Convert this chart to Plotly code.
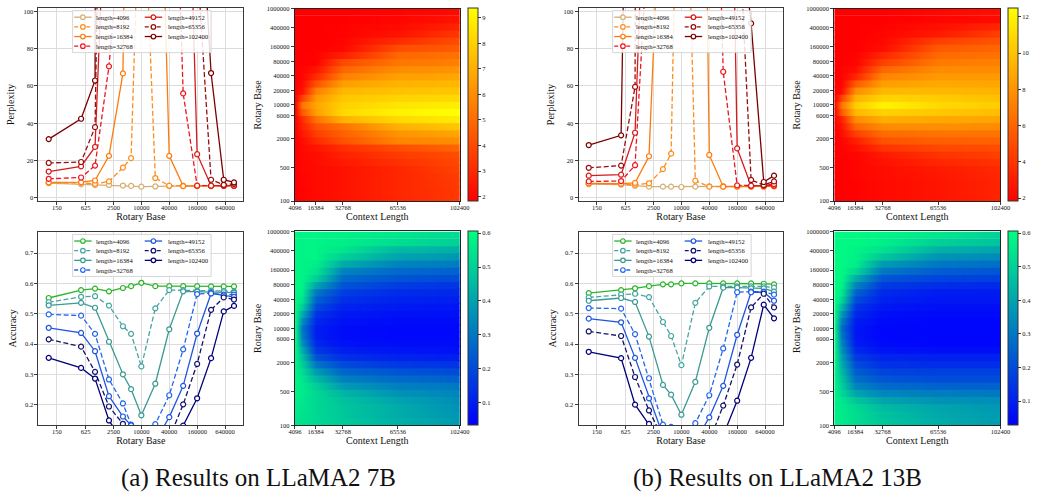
import math
import plotly.graph_objects as go

W, H = 1040, 500
FONT = "Liberation Serif"

# ---------------- data ----------------
rotary_bases = [100, 500, 1000, 2000, 4000, 6000, 10000, 20000, 40000, 80000, 160000, 320000, 600000, 1000000]
series_names = ["length=4096", "length=8192", "length=16384", "length=32768",
                "length=49152", "length=65356", "length=102400"]
series_dashed = [False, True, False, True, False, True, False]
ppl_colors = ["#d6ad72", "#ff8c1a", "#ff7a0a", "#f0141e", "#d91a1a", "#9a0d0d", "#7a0000"]
acc_colors = ["#2bb52b", "#45a5a0", "#3a9a92", "#2266f0", "#1f55e0", "#13136b", "#00007a"]

# LLaMA2 7B perplexity
ppl7_4096 = [7.9, 7.2, 6.8, 6.9, 6.6, 6.4, 6.0, 6.1, 6.3, 6.4, 6.5, 6.5, 6.6, 6.7]
ppl7_8192 = [8.0, 8.0, 7.5, 8.8, 16.2, 21.3, 200, 10.6, 6.5, 6.4, 6.4, 6.4, 6.5, 6.5]
ppl7_16384 = [8.3, 8.4, 9.3, 22.5, 66.7, 185, 800, 293, 22.5, 6.3, 6.3, 6.3, 6.4, 6.4]
ppl7_32768 = [10.2, 10.9, 17.3, 70.5, 157, 900, 3000, 1500, 287, 56, 6.5, 6.4, 6.5, 6.5]
ppl7_49152 = [14.1, 16.9, 27.3, 214, 1200, 3000, 5000, 3000, 1500, 291, 23.4, 6.5, 6.6, 6.6]
ppl7_65356 = [18.7, 19.2, 37.9, 500, 2000, 5000, 8000, 5000, 2500, 800, 127, 9.7, 7.0, 7.5]
ppl7_102400 = [31.5, 42.4, 62.9, 600, 3000, 8000, 11000, 8000, 4000, 1500, 194, 66.9, 9.7, 8.3]

# LLaMA2 13B perplexity
ppl13_4096 = [7.4, 7.1, 6.5, 6.0, 6.0, 6.0, 5.8, 6.0, 6.2, 6.2, 6.2, 6.2, 6.2, 6.3]
ppl13_8192 = [7.6, 7.4, 7.0, 7.8, 15.4, 23.7, 300, 9.2, 6.0, 6.0, 6.0, 6.0, 6.1, 6.2]
ppl13_16384 = [7.7, 7.6, 8.0, 22.3, 200, 600, 1500, 600, 23.0, 6.0, 6.0, 6.0, 6.1, 6.2]
ppl13_32768 = [8.8, 9.0, 17.5, 150, 1500, 3000, 5000, 3000, 340, 67.6, 6.7, 6.4, 6.5, 6.6]
ppl13_49152 = [11.9, 12.4, 34.9, 240, 3000, 5000, 8000, 5000, 3000, 460, 26.5, 6.5, 6.7, 7.4]
ppl13_65356 = [16.1, 17.3, 59.5, 320, 4000, 6000, 10000, 6000, 4000, 1500, 165, 9.6, 6.9, 8.8]
ppl13_102400 = [28.3, 33.5, 500, 2000, 6000, 9000, 15000, 9000, 6000, 3000, 160, 93.5, 8.5, 11.9]

# LLaMA2 7B accuracy
acc7_4096 = [0.552, 0.578, 0.583, 0.574, 0.585, 0.591, 0.602, 0.591, 0.591, 0.591, 0.591, 0.590, 0.590, 0.590]
acc7_8192 = [0.538, 0.556, 0.558, 0.527, 0.459, 0.434, 0.327, 0.518, 0.578, 0.578, 0.576, 0.576, 0.575, 0.573]
acc7_16384 = [0.528, 0.536, 0.520, 0.408, 0.301, 0.252, 0.166, 0.270, 0.449, 0.574, 0.573, 0.572, 0.571, 0.570]
acc7_32768 = [0.498, 0.494, 0.434, 0.284, 0.205, 0.135, 0.090, 0.137, 0.232, 0.383, 0.565, 0.568, 0.563, 0.563]
acc7_49152 = [0.454, 0.437, 0.377, 0.229, 0.162, 0.133, 0.080, 0.080, 0.160, 0.263, 0.435, 0.567, 0.561, 0.556]
acc7_65356 = [0.416, 0.392, 0.309, 0.195, 0.138, 0.090, 0.070, 0.070, 0.090, 0.202, 0.335, 0.513, 0.554, 0.547]
acc7_102400 = [0.355, 0.322, 0.287, 0.149, 0.080, 0.060, 0.050, 0.050, 0.060, 0.132, 0.222, 0.354, 0.508, 0.526]

# LLaMA2 13B accuracy
acc13_4096 = [0.568, 0.578, 0.584, 0.591, 0.597, 0.597, 0.600, 0.600, 0.600, 0.600, 0.600, 0.600, 0.599, 0.597]
acc13_8192 = [0.554, 0.564, 0.566, 0.555, 0.473, 0.427, 0.331, 0.536, 0.590, 0.590, 0.590, 0.590, 0.590, 0.586]
acc13_16384 = [0.543, 0.552, 0.539, 0.425, 0.266, 0.234, 0.168, 0.276, 0.454, 0.586, 0.586, 0.584, 0.584, 0.573]
acc13_32768 = [0.519, 0.517, 0.433, 0.288, 0.135, 0.128, 0.080, 0.140, 0.232, 0.386, 0.571, 0.573, 0.573, 0.563]
acc13_49152 = [0.484, 0.472, 0.355, 0.222, 0.100, 0.080, 0.060, 0.080, 0.159, 0.263, 0.431, 0.571, 0.571, 0.543]
acc13_65356 = [0.442, 0.427, 0.292, 0.182, 0.090, 0.070, 0.050, 0.060, 0.080, 0.198, 0.333, 0.521, 0.566, 0.521]
acc13_102400 = [0.375, 0.354, 0.201, 0.138, 0.070, 0.060, 0.050, 0.050, 0.060, 0.100, 0.214, 0.355, 0.530, 0.485]

rb_tickvals = [150, 625, 2500, 10000, 40000, 160000, 640000]
ppl_tickvals = [0, 20, 40, 60, 80, 100]
acc_tickvals = [0.2, 0.3, 0.4, 0.5, 0.6, 0.7]

# heatmaps: rows = rotary-base bands (centres), columns = context lengths
hm_bases = [119, 167, 235, 330, 464, 653, 918, 1292, 1817, 2556, 3594, 5054, 7109, 10000,
            14068, 19786, 27826, 39137, 55052, 77426, 108900, 153166, 215443, 303030,
            426185, 599484, 843335]
hm_lengths = [4096, 8192, 16384, 32768, 65536, 102400]
hm_len_ticks = [4096, 16384, 32768, 65536, 102400]
hm_base_ticks = [100, 500, 2000, 6000, 10000, 20000, 40000, 80000, 160000, 400000, 1000000]

hm_ppl7 = [
    [1.81, 1.89, 2.11, 2.34, 2.94, 3.47],
    [1.81, 1.89, 2.11, 2.34, 2.94, 3.47],
    [1.81, 1.96, 2.11, 2.34, 2.94, 3.55],
    [1.81, 1.96, 2.11, 2.34, 2.94, 3.62],
    [1.81, 2.04, 2.11, 2.34, 2.94, 3.78],
    [1.81, 2.04, 2.19, 2.57, 3.25, 3.93],
    [1.81, 2.04, 2.19, 2.79, 3.55, 4.08],
    [1.81, 2.11, 2.41, 3.17, 4.08, 4.83],
    [1.81, 2.19, 3.10, 4.23, 5.74, 6.04],
    [1.81, 2.49, 3.62, 4.68, 6.19, 6.72],
    [1.81, 2.79, 4.23, 5.21, 7.10, 7.71],
    [1.89, 3.10, 5.21, 7.10, 8.24, 8.77],
    [1.96, 4.46, 6.50, 8.24, 8.99, 9.37],
    [1.96, 5.29, 6.72, 8.01, 8.61, 8.84],
    [1.89, 3.70, 6.35, 7.71, 8.08, 8.24],
    [1.81, 2.34, 5.59, 7.25, 7.56, 7.71],
    [1.81, 2.11, 4.23, 6.50, 7.10, 7.25],
    [1.81, 1.96, 3.10, 5.59, 6.57, 6.72],
    [1.81, 1.89, 2.41, 4.83, 5.97, 6.19],
    [1.81, 1.81, 1.89, 4.00, 5.29, 5.59],
    [1.81, 1.81, 1.89, 2.72, 4.83, 5.21],
    [1.81, 1.81, 1.81, 2.04, 4.08, 4.53],
    [1.81, 1.81, 1.81, 1.96, 3.10, 4.08],
    [1.81, 1.81, 1.81, 1.89, 2.34, 3.47],
    [1.81, 1.81, 1.81, 1.89, 2.11, 2.87],
    [1.81, 1.81, 1.81, 1.81, 1.96, 2.34],
    [1.81, 1.81, 1.81, 1.81, 1.89, 2.11],
]
hm_ppl13 = [
    [1.82, 1.82, 1.93, 2.25, 2.67, 3.31],
    [1.82, 1.82, 1.93, 2.25, 2.67, 3.31],
    [1.82, 1.82, 1.93, 2.25, 2.67, 3.31],
    [1.82, 1.82, 2.03, 2.35, 2.78, 3.42],
    [1.82, 1.82, 2.03, 2.35, 2.89, 3.52],
    [1.82, 1.82, 2.03, 2.57, 3.42, 3.95],
    [1.82, 1.93, 2.03, 2.89, 3.95, 4.48],
    [1.82, 1.93, 2.46, 3.95, 4.80, 5.02],
    [1.82, 2.03, 3.10, 5.23, 5.76, 5.87],
    [1.82, 2.35, 4.48, 6.29, 6.61, 6.61],
    [1.82, 2.67, 6.08, 7.68, 7.78, 7.68],
    [1.93, 3.20, 7.68, 9.06, 8.85, 8.64],
    [1.93, 5.55, 9.49, 10.55, 10.13, 9.70],
    [1.93, 6.61, 10.34, 11.94, 10.87, 10.34],
    [1.82, 4.48, 9.28, 10.66, 10.34, 9.81],
    [1.82, 2.35, 7.68, 9.49, 9.49, 9.28],
    [1.82, 2.03, 5.55, 8.42, 8.85, 8.74],
    [1.82, 1.93, 3.42, 7.36, 8.21, 8.21],
    [1.82, 1.93, 2.46, 6.08, 7.68, 7.68],
    [1.82, 1.82, 2.03, 4.48, 6.93, 7.15],
    [1.82, 1.82, 1.93, 3.42, 6.29, 6.61],
    [1.82, 1.82, 1.82, 2.35, 5.55, 6.08],
    [1.82, 1.82, 1.82, 2.14, 4.48, 5.33],
    [1.82, 1.82, 1.82, 2.03, 2.89, 4.48],
    [1.82, 1.82, 1.82, 1.93, 2.46, 3.42],
    [1.82, 1.82, 1.82, 1.82, 2.03, 2.25],
    [1.82, 1.82, 1.82, 1.82, 2.14, 2.46],
]
hm_acc7 = [
    [0.55, 0.54, 0.52, 0.49, 0.43, 0.38],
    [0.56, 0.54, 0.52, 0.48, 0.42, 0.37],
    [0.56, 0.55, 0.52, 0.48, 0.42, 0.36],
    [0.57, 0.55, 0.52, 0.47, 0.40, 0.35],
    [0.58, 0.56, 0.52, 0.44, 0.36, 0.33],
    [0.58, 0.56, 0.50, 0.38, 0.32, 0.30],
    [0.58, 0.55, 0.45, 0.32, 0.27, 0.25],
    [0.58, 0.53, 0.38, 0.26, 0.22, 0.20],
    [0.58, 0.50, 0.30, 0.20, 0.16, 0.15],
    [0.58, 0.47, 0.22, 0.14, 0.11, 0.10],
    [0.59, 0.42, 0.16, 0.10, 0.08, 0.07],
    [0.59, 0.36, 0.12, 0.07, 0.06, 0.06],
    [0.60, 0.32, 0.10, 0.06, 0.05, 0.05],
    [0.60, 0.30, 0.10, 0.06, 0.05, 0.05],
    [0.60, 0.35, 0.12, 0.07, 0.06, 0.06],
    [0.59, 0.42, 0.15, 0.09, 0.07, 0.07],
    [0.59, 0.50, 0.20, 0.11, 0.09, 0.08],
    [0.59, 0.55, 0.25, 0.14, 0.11, 0.10],
    [0.59, 0.57, 0.30, 0.17, 0.13, 0.12],
    [0.59, 0.58, 0.40, 0.22, 0.17, 0.15],
    [0.59, 0.58, 0.50, 0.27, 0.22, 0.20],
    [0.59, 0.58, 0.55, 0.33, 0.27, 0.25],
    [0.59, 0.58, 0.57, 0.42, 0.33, 0.31],
    [0.59, 0.58, 0.58, 0.50, 0.40, 0.37],
    [0.59, 0.58, 0.58, 0.55, 0.45, 0.43],
    [0.59, 0.58, 0.58, 0.57, 0.53, 0.50],
    [0.59, 0.58, 0.58, 0.57, 0.55, 0.52],
]
hm_acc13 = [
    [0.57, 0.56, 0.53, 0.48, 0.42, 0.38],
    [0.57, 0.56, 0.53, 0.47, 0.41, 0.38],
    [0.57, 0.56, 0.52, 0.45, 0.40, 0.37],
    [0.58, 0.55, 0.48, 0.40, 0.36, 0.35],
    [0.58, 0.52, 0.40, 0.33, 0.31, 0.30],
    [0.58, 0.50, 0.33, 0.27, 0.25, 0.25],
    [0.58, 0.48, 0.28, 0.22, 0.20, 0.20],
    [0.58, 0.45, 0.24, 0.18, 0.17, 0.17],
    [0.59, 0.42, 0.20, 0.14, 0.13, 0.13],
    [0.59, 0.40, 0.16, 0.11, 0.10, 0.10],
    [0.60, 0.36, 0.12, 0.07, 0.06, 0.06],
    [0.60, 0.33, 0.09, 0.05, 0.04, 0.04],
    [0.60, 0.30, 0.08, 0.04, 0.04, 0.04],
    [0.60, 0.28, 0.08, 0.04, 0.04, 0.04],
    [0.60, 0.32, 0.09, 0.05, 0.04, 0.04],
    [0.60, 0.38, 0.12, 0.06, 0.05, 0.05],
    [0.60, 0.45, 0.15, 0.08, 0.06, 0.06],
    [0.60, 0.52, 0.20, 0.10, 0.08, 0.08],
    [0.60, 0.56, 0.25, 0.12, 0.09, 0.09],
    [0.60, 0.58, 0.33, 0.16, 0.13, 0.12],
    [0.59, 0.59, 0.42, 0.22, 0.18, 0.17],
    [0.59, 0.59, 0.52, 0.30, 0.24, 0.22],
    [0.59, 0.59, 0.57, 0.38, 0.30, 0.28],
    [0.59, 0.59, 0.58, 0.48, 0.36, 0.34],
    [0.59, 0.59, 0.58, 0.54, 0.43, 0.40],
    [0.59, 0.59, 0.59, 0.57, 0.50, 0.47],
    [0.59, 0.59, 0.59, 0.58, 0.55, 0.50],
]

captions = ["(a) Results on LLaMA2 7B", "(b) Results on LLaMA2 13B"]

# ---------------- layout helpers ----------------
def px(x):
    return x / W

def py(y):
    return 1 - y / H

AX = "#3a3a3a"
GRID = "#dcdcdc"
TICKFONT = dict(family=FONT, size=6.5, color="#111")
TITLEFONT = dict(family=FONT, size=10, color="#111")

fig = go.Figure()

def axname(n, letter):
    return f"{letter}axis" if n == 1 else f"{letter}axis{n}"

def ref(n, letter):
    return letter if n == 1 else f"{letter}{n}"

def line_panel(n, x0, y0, x1, y1, series, colors, yrange, ytv, ytitle):
    for name, vals, color, dashed in zip(series_names, series, colors, series_dashed):
        fig.add_trace(go.Scatter(
            x=rotary_bases, y=vals, mode="lines+markers", name=name, showlegend=False,
            line=dict(color=color, width=1.3, dash="5px,2.5px" if dashed else "solid"),
            marker=dict(symbol="circle", size=5, color="white", line=dict(color=color, width=1.2)),
            xaxis=ref(n, "x"), yaxis=ref(n, "y")))
    common = dict(showline=True, mirror=True, linecolor=AX, linewidth=1, ticks="outside",
                  ticklen=3, tickcolor=AX, tickfont=TICKFONT, showgrid=True, gridcolor=GRID,
                  gridwidth=1, zeroline=False)
    fig.update_layout(**{
        axname(n, "x"): dict(domain=[px(x0), px(x1)], anchor=ref(n, "y"), type="log",
                             range=[1.779, 6.196], tickvals=rb_tickvals,
                             ticktext=[str(v) for v in rb_tickvals],
                             title=dict(text="Rotary Base", font=TITLEFONT, standoff=0), **common),
        axname(n, "y"): dict(domain=[py(y1), py(y0)], anchor=ref(n, "x"), range=yrange,
                             tickvals=ytv, ticktext=[str(v) for v in ytv],
                             title=dict(text=ytitle, font=TITLEFONT, standoff=6), **common),
    })
    # legend (two columns, built from the series lists)
    shapes, annos = [], []
    shapes.append(dict(type="rect", xref="paper", yref="paper", layer="above",
                       x0=px(x0 + 34.7), x1=px(x0 + 175.5), y0=py(y0 + 2.7), y1=py(y0 + 45.3),
                       line=dict(color="#cccccc", width=0.8), fillcolor="rgba(255,255,255,0.85)"))
    for i, (name, color, dashed) in enumerate(zip(series_names, colors, series_dashed)):
        col, row = (0, i) if i < 4 else (1, i - 4)
        ry = y0 + 9.4 + 9.8 * row
        kx = x0 + (36.3 if col == 0 else 108.0)
        tx = x0 + (56.3 if col == 0 else 129.7)
        shapes.append(dict(type="line", xref="paper", yref="paper", layer="above",
                           x0=px(kx), x1=px(kx + 17.7), y0=py(ry), y1=py(ry),
                           line=dict(color=color, width=1.3, dash="4px,2px" if dashed else "solid")))
        mx = kx + 8.85
        shapes.append(dict(type="circle", xref="paper", yref="paper", layer="above",
                           x0=px(mx - 2.3), x1=px(mx + 2.3), y0=py(ry + 2.3), y1=py(ry - 2.3),
                           line=dict(color=color, width=1.2), fillcolor="white"))
        annos.append(dict(text=name, x=px(tx), y=py(ry), xref="paper", yref="paper",
                          xanchor="left", yanchor="middle", showarrow=False,
                          font=dict(family=FONT, size=6.6, color="#111")))
    return shapes, annos

def band_edges(centres):
    edges = [centres[0] ** 1.5 / centres[1] ** 0.5]
    edges += [math.sqrt(a * b) for a, b in zip(centres[:-1], centres[1:])]
    edges += [centres[-1] ** 1.5 / centres[-2] ** 0.5]
    return edges

def heat_panel(n, x0, y0, x1, y1, z, cax):
    edges = band_edges(hm_bases)
    for i, row in enumerate(z):
        lo, hi = edges[i], edges[i + 1] * 1.02
        fig.add_trace(go.Heatmap(x=hm_lengths, y=[lo, math.sqrt(lo * hi), hi], z=[row, row],
                                 zsmooth="best", coloraxis=cax, hoverinfo="skip",
                                 xaxis=ref(n, "x"), yaxis=ref(n, "y")))
    common = dict(showline=True, mirror=True, linecolor="#222", linewidth=1, ticks="outside",
                  ticklen=3, tickcolor=AX, tickfont=TICKFONT, showgrid=False, zeroline=False)
    fig.update_layout(**{
        axname(n, "x"): dict(domain=[px(x0), px(x1)], anchor=ref(n, "y"), range=[4096, 102400],
                             tickvals=hm_len_ticks, ticktext=[str(v) for v in hm_len_ticks],
                             title=dict(text="Context Length", font=TITLEFONT, standoff=0), **common),
        axname(n, "y"): dict(domain=[py(y1), py(y0)], anchor=ref(n, "x"), type="log",
                             range=[2, 6], tickvals=hm_base_ticks,
                             ticktext=[str(v) for v in hm_base_ticks],
                             title=dict(text="Rotary Base", font=TITLEFONT, standoff=3), **common),
    })

autumn = [[0, "rgb(255,0,0)"], [1, "rgb(255,255,0)"]]
winter = [[0, "rgb(0,0,255)"], [1, "rgb(0,255,128)"]]

def cbar(xl, y0, y1, tv):
    return dict(x=px(xl), xanchor="left", xpad=0, ypad=0, y=py((y0 + y1) / 2), yanchor="middle",
                len=(y1 - y0) / H, lenmode="fraction", thickness=10, thicknessmode="pixels",
                outlinewidth=1, outlinecolor="#333", ticks="outside", ticklen=3, tickcolor="#333",
                tickfont=TICKFONT, tickvals=tv)

shapes, annos = [], []
for (n, x0, y0, x1, y1, ser, cols, yr, ytv, yt) in [
    (1, 32, 4, 240, 200,
     [ppl7_4096, ppl7_8192, ppl7_16384, ppl7_32768, ppl7_49152, ppl7_65356, ppl7_102400],
     ppl_colors, [-1.8, 101.8], ppl_tickvals, "Perplexity"),
    (5, 32, 231, 240, 427,
     [acc7_4096, acc7_8192, acc7_16384, acc7_32768, acc7_49152, acc7_65356, acc7_102400],
     acc_colors, [0.134, 0.770], acc_tickvals, "Accuracy"),
    (3, 581, 4, 789, 200,
     [ppl13_4096, ppl13_8192, ppl13_16384, ppl13_32768, ppl13_49152, ppl13_65356, ppl13_102400],
     ppl_colors, [-1.8, 101.8], ppl_tickvals, "Perplexity"),
    (7, 581, 231, 789, 427,
     [acc13_4096, acc13_8192, acc13_16384, acc13_32768, acc13_49152, acc13_65356, acc13_102400],
     acc_colors, [0.134, 0.770], acc_tickvals, "Accuracy"),
]:
    s, a = line_panel(n, x0, y0, x1, y1, ser, cols, yr, ytv, yt)
    shapes += s
    annos += a

heat_panel(2, 292.7, 4.7, 460.3, 200, hm_ppl7, "coloraxis")
heat_panel(6, 292.7, 230.7, 460.3, 427.3, hm_acc7, "coloraxis2")
heat_panel(4, 841, 4.7, 1010, 200, hm_ppl13, "coloraxis3")
heat_panel(8, 841, 230.7, 1010, 427.3, hm_acc13, "coloraxis4")

for text, cx in zip(captions, [256, 783]):
    annos.append(dict(text=text, x=px(cx), y=py(481), xref="paper", yref="paper",
                      xanchor="center", yanchor="middle", showarrow=False,
                      font=dict(family=FONT, size=25, color="#111")))

fig.update_layout(
    width=W, height=H, margin=dict(l=0, r=0, t=0, b=0),
    paper_bgcolor="white", plot_bgcolor="white",
    font=dict(family=FONT, color="#111"),
    showlegend=False,
    coloraxis=dict(colorscale=autumn, cmin=1.81, cmax=9.37,
                   colorbar=cbar(469, 4.7, 200, [2, 3, 4, 5, 6, 7, 8, 9])),
    coloraxis2=dict(colorscale=winter, cmin=0.033, cmax=0.605,
                    colorbar=cbar(469, 230.7, 427.3, [0.1, 0.2, 0.3, 0.4, 0.5, 0.6])),
    coloraxis3=dict(colorscale=autumn, cmin=1.82, cmax=12.47,
                    colorbar=cbar(1017.7, 4.7, 200, [2, 4, 6, 8, 10, 12])),
    coloraxis4=dict(colorscale=winter, cmin=0.028, cmax=0.605,
                    colorbar=cbar(1017.7, 230.7, 427.3, [0.1, 0.2, 0.3, 0.4, 0.5, 0.6])),
    shapes=shapes, annotations=annos,
)

# pull x tick labels a little closer to the axes (matplotlib-like spacing)
try:
    fig.update_xaxes(ticklabelstandoff=-3)
except Exception:
    pass

fig.write_html("out.html", config={"displayModeBar": False},
               post_script="document.body.style.margin='0px';document.body.style.overflow='hidden';")
